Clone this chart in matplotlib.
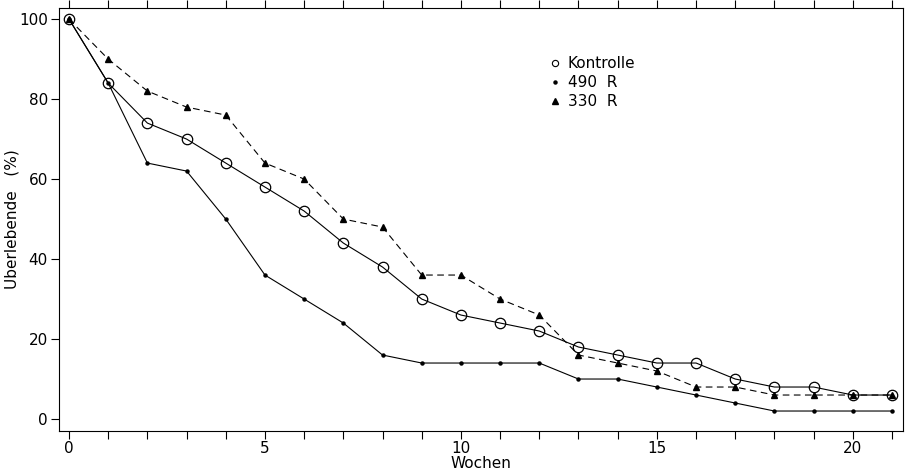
import matplotlib.pyplot as plt
from matplotlib.lines import Line2D

weeks = list(range(22))
kontrolle = [100, 84, 74, 70, 64, 58, 52, 44, 38, 30, 26, 24, 22, 18, 16, 14, 14, 10, 8, 8, 6, 6]
r490 = [100, 84, 64, 62, 50, 36, 30, 24, 16, 14, 14, 14, 14, 10, 10, 8, 6, 4, 2, 2, 2, 2]
r330 = [100, 90, 82, 78, 76, 64, 60, 50, 48, 36, 36, 30, 26, 16, 14, 12, 8, 8, 6, 6, 6, 6]

xticks_lab = [0, 5, 10, 15, 20]
yticks = [0, 20, 40, 60, 80, 100]


def main():
    plt.rcParams['font.family'] = ['DejaVu Sans']
    fig = plt.figure(figsize=(9.05, 4.76), dpi=100)
    ax = fig.add_axes([0.0652, 0.0945, 0.9326, 0.8885])

    lw = 0.8
    ax.plot(weeks, r330, color='k', lw=lw, ls=(0, (6, 4)),
            marker='^', ms=5, mfc='k', mec='k', zorder=2)
    ax.plot(weeks, kontrolle, color='k', lw=lw, ls='-',
            marker='o', ms=7.5, mfc='none', mec='k', mew=0.9, zorder=3)
    ax.plot(weeks, r490, color='k', lw=lw, ls='-',
            marker='o', ms=2.2, mfc='k', mec='k', zorder=4)

    ax.set_xlim(-0.255, 21.28)
    ax.set_ylim(-3, 102.75)

    ax.set_xticks(weeks)
    ax.set_xticklabels([str(w) if w in xticks_lab else '' for w in weeks])
    ax.set_yticks(yticks)
    ax.tick_params(axis='both', direction='out', length=6, width=0.8,
                   labelsize=11, pad=2)
    ax.tick_params(axis='x', top=True, pad=1)
    for s in ax.spines.values():
        s.set_linewidth(0.8)

    ax.set_xlabel('Wochen', fontsize=11, labelpad=0)
    ax.xaxis.set_label_coords(0.5, -0.06)
    ax.set_ylabel('Uberlebende   (%)', fontsize=11)
    ax.yaxis.set_label_coords(-0.047, 0.5)

    handles = [
        Line2D([], [], ls='none', marker='o', ms=4.5, mfc='none', mec='k', mew=0.8),
        Line2D([], [], ls='none', marker='o', ms=2.2, mfc='k', mec='k'),
        Line2D([], [], ls='none', marker='^', ms=4.5, mfc='k', mec='k'),
    ]
    ax.legend(handles, ['Kontrolle', '490  R', '330  R'], loc='upper left',
              bbox_to_anchor=(0.573, 0.90), frameon=False, fontsize=11,
              handlelength=0.8, handletextpad=0.45, labelspacing=0.25,
              borderaxespad=0)

    fig.savefig('out.png', dpi=100)


if __name__ == '__main__':
    main()
